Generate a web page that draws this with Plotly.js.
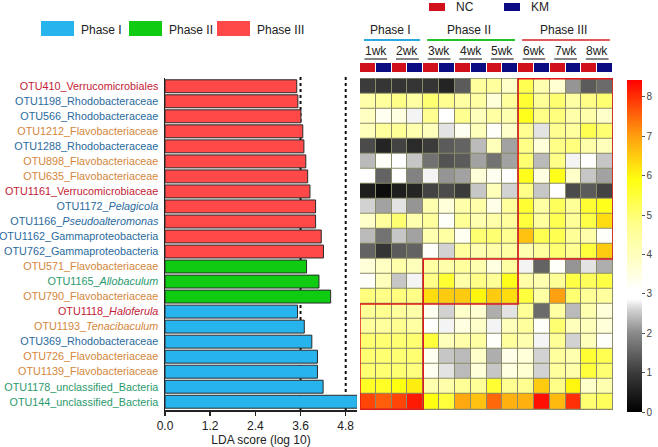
<!DOCTYPE html>
<html>
<head>
<meta charset="utf-8">
<script src="https://cdn.plot.ly/plotly-3.0.1.min.js"></script>
<style>
  body { margin: 0; background: #fff; }
  #chart { width: 658px; height: 447px; }
</style>
</head>
<body>
<div id="chart"></div>
<script>
// OTUs, top to bottom
var otus = ['OTU410','OTU1198','OTU566','OTU1212','OTU1288','OTU898','OTU635','OTU1161',
  'OTU1172','OTU1166','OTU1162','OTU762','OTU571','OTU1165','OTU790','OTU1118','OTU1193',
  'OTU369','OTU726','OTU1139','OTU1178','OTU144'];
var taxa = ['Verrucomicrobiales','Rhodobacteraceae','Rhodobacteraceae','Flavobacteriaceae',
  'Rhodobacteraceae','Flavobacteriaceae','Flavobacteriaceae','Verrucomicrobiaceae','Pelagicola',
  'Pseudoalteromonas','Gammaproteobacteria','Gammaproteobacteria','Flavobacteriaceae','Allobaculum',
  'Flavobacteriaceae','Haloferula','Tenacibaculum','Rhodobacteraceae','Flavobacteriaceae',
  'Flavobacteriaceae','unclassified_Bacteria','unclassified_Bacteria'];
var is_genus = [0,0,0,0,0,0,0,0,1,1,0,0,0,1,0,1,1,0,0,0,0,0];
var lineage = ['verru','prot','prot','flavo','prot','flavo','flavo','verru','prot','prot','prot','prot',
  'flavo','other','flavo','verru','flavo','prot','flavo','flavo','other','other'];
var phase = ['III','III','III','III','III','III','III','III','III','III','III','III',
  'II','II','II','I','I','I','I','I','I','I'];
var lda = [3.50,3.53,3.61,3.66,3.69,3.74,3.79,3.85,4.00,4.00,4.15,4.21,
  3.76,4.09,4.40,3.52,3.70,3.90,4.05,4.05,4.20,5.11];

// heatmap columns
var weeks = ['1wk','2wk','3wk','4wk','5wk','6wk','7wk','8wk'];
var groups = ['NC','KM'];
var phase_cols = {'Phase I': [0, 3], 'Phase II': [4, 9], 'Phase III': [10, 15]};

// abundance (log), one row per OTU, NC/KM for 1wk..8wk
var abund = [
  [1.0,0.9,0.9,0.9,0.9,0.6,1.4,4.5,4.5,3.8,5.3,4.2,3.7,2.1,1.4,1.6],
  [4.3,4.5,4.8,4.4,5.0,4.7,4.4,4.4,3.6,4.5,5.6,4.6,5.0,4.4,4.8,5.0],
  [3.9,3.3,3.5,2.8,4.7,3.1,4.7,4.0,4.4,4.2,5.8,4.8,4.9,4.3,4.3,3.8],
  [4.0,4.5,4.6,4.2,4.0,2.7,3.3,4.0,3.2,3.8,4.7,2.7,4.7,4.5,5.3,5.0],
  [1.2,0.6,1.1,0.7,1.0,1.4,1.5,2.4,4.0,2.2,4.8,3.6,4.8,4.9,4.3,4.0],
  [2.4,3.2,3.1,2.5,1.7,1.3,1.4,2.2,1.7,2.2,5.0,2.4,4.8,2.8,3.1,2.5],
  [3.1,1.5,2.9,1.9,2.8,2.1,2.2,3.6,3.3,2.9,5.8,3.5,5.8,3.8,2.5,2.2],
  [0.5,0.2,0.5,0.6,1.1,1.2,1.0,2.5,4.0,2.6,4.8,2.5,3.1,1.2,1.4,1.1],
  [2.6,2.2,2.7,2.1,4.2,3.6,4.3,4.3,3.4,4.5,5.6,4.4,5.2,4.6,5.6,5.8],
  [3.8,4.5,5.0,4.2,4.5,3.2,4.6,4.2,4.3,4.5,5.5,4.5,5.3,4.6,5.4,6.3],
  [2.4,1.7,2.5,2.2,4.2,4.4,3.3,5.0,5.0,4.7,6.6,5.3,5.3,4.6,4.3,3.2],
  [1.5,0.9,1.4,1.5,3.2,2.6,4.5,4.2,4.3,4.4,4.2,4.5,5.0,4.7,5.5,6.5],
  [3.6,3.9,4.3,4.0,4.4,4.3,4.5,4.2,3.5,4.4,2.8,1.5,3.2,2.1,2.7,2.3],
  [3.2,4.0,2.5,2.8,4.8,5.6,4.3,4.8,4.6,5.8,4.3,4.2,4.6,5.4,5.2,5.4],
  [4.9,4.8,4.9,4.8,6.3,6.5,6.5,6.0,6.5,6.3,5.5,4.4,7.0,5.0,4.6,4.5],
  [4.6,4.7,4.5,4.3,3.3,2.6,3.8,3.7,2.3,2.7,4.6,1.6,4.4,2.4,4.2,3.6],
  [4.5,4.5,4.7,4.4,3.1,2.8,3.5,3.8,2.8,4.0,4.5,3.2,5.0,4.0,4.0,3.6],
  [5.0,5.0,5.0,5.0,5.5,4.0,4.3,4.4,3.2,4.5,4.2,2.8,4.6,2.6,4.0,3.2],
  [5.0,5.0,5.0,5.0,3.3,2.5,2.4,3.8,2.3,3.4,3.6,2.6,4.5,4.2,5.6,5.3],
  [5.0,5.0,5.0,4.9,3.3,2.7,2.4,3.6,2.5,3.5,3.7,2.6,4.5,4.3,5.5,5.0],
  [5.7,5.7,5.9,6.1,4.2,4.3,4.6,4.6,5.6,4.7,4.7,6.5,4.8,6.0,3.8,4.2],
  [7.8,7.6,7.8,8.2,5.9,5.5,6.9,6.6,7.5,6.8,6.8,8.3,6.7,8.0,5.0,5.2]
];

var phase_color = {'I': '#27b3ec', 'II': '#0fcc12', 'III': '#ff4848'};
var lineage_color = {'verru': '#c41a35', 'prot': '#2a6a9e', 'flavo': '#d4863a', 'other': '#2a9a6c'};
var group_color = {'NC': '#d0111c', 'KM': '#0b0b82'};

function px(x) { return x / 658; }
function py(y) { return 1 - y / 447; }

var ydom = [py(410), py(78)];

var labels = otus.map(function(o, i) {
  var t = is_genus[i] ? '<i>' + taxa[i] + '</i>' : taxa[i];
  return "<span style='color:" + lineage_color[lineage[i]] + "'>" + o + '_' + t + '</span>';
});

var col_x = [];
var col_group = [];
weeks.forEach(function(w, k) {
  groups.forEach(function(g, j) {
    col_x.push(k * 2 + j);
    col_group.push(j);
  });
});

var bars = {
  type: 'bar',
  orientation: 'h',
  x: lda,
  y: otus,
  width: 0.86,
  marker: {
    color: phase.map(function(p) { return phase_color[p]; }),
    line: {color: '#2a2a2a', width: 1}
  },
  xaxis: 'x',
  yaxis: 'y',
  showlegend: false,
  hoverinfo: 'x+y'
};

var heat = {
  type: 'heatmap',
  x: col_x,
  y: otus,
  z: abund,
  xaxis: 'x2',
  yaxis: 'y',
  zmin: 0,
  zmax: 8.43,
  xgap: 1,
  ygap: 1,
  colorscale: [
    [0, '#000000'],
    [0.12, '#3c3c3c'],
    [0.24, '#8c8c8c'],
    [0.31, '#d4d4d4'],
    [0.34, '#ffffff'],
    [0.37, '#ffffff'],
    [0.46, '#ffffc4'],
    [0.56, '#ffff90'],
    [0.70, '#ffff10'],
    [0.83, '#ffa010'],
    [1, '#ff0000']
  ],
  colorbar: {
    x: px(627), xanchor: 'left', xref: 'paper', xpad: 0,
    y: py(246), yanchor: 'middle', ypad: 0,
    len: (412 - 80) / 447, lenmode: 'fraction',
    thickness: 15,
    outlinewidth: 0,
    tickvals: [0,1,2,3,4,5,6,7,8],
    ticks: 'outside', ticklen: 3, tickcolor: '#555',
    tickfont: {family: 'Liberation Sans, Arial', size: 10, color: '#444'}
  }
};

var strip = {
  type: 'heatmap',
  x: col_x,
  y: ['grp'],
  z: [col_group],
  xaxis: 'x2',
  yaxis: 'y3',
  zmin: 0,
  zmax: 1,
  xgap: 1,
  showscale: false,
  colorscale: [[0, group_color.NC], [0.5, group_color.NC], [0.5, group_color.KM], [1, group_color.KM]],
  hoverinfo: 'x'
};

var shapes = [];
var annotations = [];

// dotted reference lines behind the bars
[3.6, 4.8].forEach(function(v) {
  shapes.push({type: 'line', layer: 'below', xref: 'x', yref: 'paper', x0: v, x1: v,
    y0: ydom[0], y1: ydom[1] + 0.005, line: {color: '#111', width: 2, dash: 'dot'}});
});

// grid colour behind the heatmap cells
shapes.push({type: 'rect', layer: 'below', xref: 'x2', yref: 'paper', x0: -0.5, x1: 15.5,
  y0: ydom[0], y1: ydom[1], fillcolor: '#8a8a6a', line: {width: 0}});

// red boxes around the enriched blocks
var block_rows = {'Phase III': [0, 11], 'Phase II': [12, 14], 'Phase I': [15, 21]};
Object.keys(block_rows).forEach(function(p) {
  var c = phase_cols[p], r = block_rows[p];
  shapes.push({type: 'rect', xref: 'x2', yref: 'y', x0: c[0] - 0.5, x1: c[1] + 0.5,
    y0: r[0] - 0.5, y1: r[1] + 0.5, line: {color: '#e01818', width: 1.5}});
});

// phase headers over the heatmap
var head_color = {'Phase I': '#2aa8e0', 'Phase II': '#22c42a', 'Phase III': '#e05a5a'};
Object.keys(phase_cols).forEach(function(p) {
  var c = phase_cols[p];
  annotations.push({xref: 'x2', yref: 'paper', x: (c[0] + c[1]) / 2 - 0.1, y: py(30), text: p,
    xanchor: 'center', yanchor: 'middle', showarrow: false, font: {size: 12, color: '#222'}});
  shapes.push({type: 'line', xref: 'x2', yref: 'paper', x0: c[0] - 0.25, x1: c[1] + 0.3,
    y0: py(40), y1: py(40), line: {color: head_color[p], width: 2}});
});

// week labels
weeks.forEach(function(w, k) {
  annotations.push({xref: 'x2', yref: 'paper', x: k * 2 + 0.5, y: py(51), text: w,
    xanchor: 'center', yanchor: 'middle', showarrow: false, font: {size: 12, color: '#222'}});
  shapes.push({type: 'line', xref: 'x2', yref: 'paper', x0: k * 2 - 0.22, x1: k * 2 + 1.22,
    y0: py(59), y1: py(59), line: {color: '#333', width: 1.2}});
});

// NC / KM legend
var gx = {'NC': 429, 'KM': 504};
groups.forEach(function(g) {
  shapes.push({type: 'rect', xref: 'paper', yref: 'paper', x0: px(gx[g]), x1: px(gx[g] + 16),
    y0: py(11), y1: py(3), fillcolor: group_color[g], line: {width: 0}});
  annotations.push({xref: 'paper', yref: 'paper', x: px(gx[g] + 25), y: py(7), xanchor: 'left',
    yanchor: 'middle', text: g, showarrow: false, font: {size: 12, color: '#222'}});
});

// phase legend for the bars
var lx = {'I': 41, 'II': 129, 'III': 217};
['I', 'II', 'III'].forEach(function(p) {
  shapes.push({type: 'rect', xref: 'paper', yref: 'paper', x0: px(lx[p]), x1: px(lx[p] + 33),
    y0: py(36), y1: py(21), fillcolor: phase_color[p], line: {width: 0}});
  annotations.push({xref: 'paper', yref: 'paper', x: px(lx[p] + 38), y: py(30), xanchor: 'left',
    yanchor: 'middle', text: 'Phase ' + p, showarrow: false, font: {size: 12, color: '#222'}});
});

var layout = {
  width: 658,
  height: 447,
  margin: {l: 0, r: 0, t: 0, b: 0, autoexpand: false},
  paper_bgcolor: '#fff',
  plot_bgcolor: 'rgba(0,0,0,0)',
  font: {family: 'Liberation Sans, Arial, sans-serif', color: '#222'},
  showlegend: false,
  xaxis: {
    domain: [px(165), px(357)],
    range: [0, 5.1],
    anchor: 'y',
    tickvals: [0, 1.2, 2.4, 3.6, 4.8],
    tickformat: '.1f',
    ticks: 'outside', ticklen: 4, tickwidth: 1.5, tickcolor: '#222',
    showline: true, linecolor: '#222', linewidth: 1.5,
    showgrid: false, zeroline: false,
    tickfont: {size: 12, color: '#222'},
    title: {text: 'LDA score (log 10)', font: {size: 12, color: '#222'}, standoff: 0}
  },
  yaxis: {
    domain: ydom,
    anchor: 'x',
    autorange: 'reversed',
    tickmode: 'array',
    tickvals: otus,
    ticktext: labels,
    ticks: '',
    ticklabelstandoff: 3,
    showline: true, linecolor: '#222', linewidth: 1.5,
    showgrid: false, zeroline: false,
    tickfont: {size: 10.8}
  },
  xaxis2: {
    domain: [px(360), px(613)],
    range: [-0.5, 15.5],
    anchor: 'y',
    showticklabels: false, ticks: '',
    showgrid: false, zeroline: false, showline: false
  },
  yaxis3: {
    domain: [py(72), py(63)],
    anchor: 'x2',
    showticklabels: false, ticks: '',
    showgrid: false, zeroline: false
  },
  bargap: 0.14,
  shapes: shapes,
  annotations: annotations
};

Plotly.newPlot('chart', [bars, heat, strip], layout, {displayModeBar: false, staticPlot: true});
</script>
</body>
</html>
